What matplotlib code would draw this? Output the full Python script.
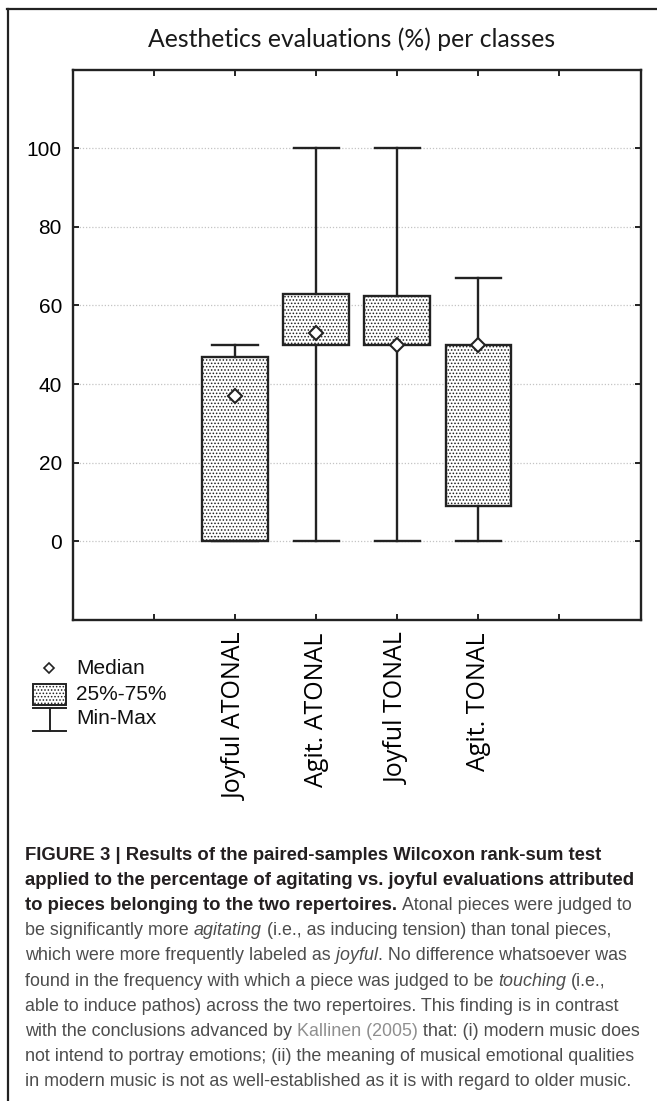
import matplotlib
matplotlib.use('Agg')
import matplotlib.pyplot as plt
from matplotlib.patches import Rectangle
from matplotlib.lines import Line2D

# data
classes = ['Joyful ATONAL', 'Agit. ATONAL', 'Joyful TONAL', 'Agit. TONAL']
positions = [2, 3, 4, 5]
mins = [0, 0, 0, 0]
q1s = [0, 50, 50, 9]
medians = [37, 53, 50, 50]
q3s = [47, 63, 62.5, 50]
maxs = [50, 100, 100, 67]

yticks = [0, 20, 40, 60, 80, 100]
xticks = [1, 2, 3, 4, 5, 6]
xticklabels = [''] + classes + ['']

title = 'Aesthetics evaluations (%) per classes'
legend_labels = ['Median', '25%-75%', 'Min-Max']

caption = [
    [('FIGURE 3 | Results of the paired-samples Wilcoxon rank-sum test', 'b')],
    [('applied to the percentage of agitating vs. joyful evaluations attributed', 'b')],
    [('to pieces belonging to the two repertoires. ', 'b'), ('Atonal pieces were judged to', 'r')],
    [('be significantly more ', 'r'), ('agitating', 'i'), (' (i.e., as inducing tension) than tonal pieces,', 'r')],
    [('which were more frequently labeled as ', 'r'), ('joyful', 'i'), ('. No difference whatsoever was', 'r')],
    [('found in the frequency with which a piece was judged to be ', 'r'), ('touching', 'i'), (' (i.e.,', 'r')],
    [('able to induce pathos) across the two repertoires. This finding is in contrast', 'r')],
    [('with the conclusions advanced by ', 'r'), ('Kallinen (2005)', 'l'), (' that: (i) modern music does', 'r')],
    [('not intend to portray emotions; (ii) the meaning of musical emotional qualities', 'r')],
    [('in modern music is not as well-established as it is with regard to older music.', 'r')],
]

ink = '#222222'
plt.rcParams['hatch.color'] = '#8a8a8a'
plt.rcParams['hatch.linewidth'] = 0.7

W, H = 657, 1101
fig = plt.figure(figsize=(W / 100, H / 100), dpi=100)


def fx(px):
    return px / W


def fy(py):
    return 1 - py / H


ax = fig.add_axes([fx(73), fy(620), fx(640.5) - fx(73), fy(69.5) - fy(620)])

stats = []
for c, lo, a, m, b, hi in zip(classes, mins, q1s, medians, q3s, maxs):
    stats.append(dict(label=c, whislo=lo, q1=a, med=m, q3=b, whishi=hi))

ax.bxp(stats, positions=positions, widths=0.81, capwidths=0.56, patch_artist=True,
       showfliers=False, manage_ticks=False,
       boxprops=dict(facecolor='white', edgecolor=ink, linewidth=1.7, hatch='.....'),
       whiskerprops=dict(color=ink, linewidth=1.7),
       capprops=dict(color=ink, linewidth=1.7),
       medianprops=dict(linewidth=0))
ax.plot(positions, medians, ls='none', marker='D', ms=7, mfc='white', mec=ink, mew=1.5, zorder=6)

ax.set_xlim(0, 7)
ax.set_ylim(-20, 120)
ax.set_yticks(yticks)
ax.set_xticks(xticks)
ax.set_xticklabels(xticklabels, rotation=90, family='Open Sans', fontsize=18)
ax.set_yticklabels([str(v) for v in yticks], family='Liberation Sans', fontsize=15)
ax.tick_params(direction='in', top=True, right=True, length=4.5, width=1.4, color=ink)
ax.tick_params(axis='x', pad=9)
ax.tick_params(axis='y', pad=8)
ax.yaxis.grid(True, ls=(0, (1, 1.5)), color='#c4c4c4', lw=0.9)
ax.set_axisbelow(True)
for s in ax.spines.values():
    s.set_linewidth(1.7)
    s.set_color(ink)

fig.text(fx(352), fy(39), title, ha='center', va='center', fontsize=17.8,
         family='Lato', color='#1a1a1a')

# legend block under the axes
leg_fs = 15
fig.add_artist(Line2D([fx(49)], [fy(668)], transform=fig.transFigure, ls='none', marker='D',
                      ms=5.5, mfc='white', mec=ink, mew=1.2))
fig.add_artist(Rectangle((fx(33), fy(705)), fx(66) - fx(33), fy(684) - fy(705),
                         transform=fig.transFigure, facecolor='white', edgecolor=ink,
                         lw=1.4, hatch='.....'))
fig.add_artist(Line2D([fx(33), fx(66)], [fy(708), fy(708)], transform=fig.transFigure, color=ink, lw=1.4))
fig.add_artist(Line2D([fx(33), fx(66)], [fy(731), fy(731)], transform=fig.transFigure, color=ink, lw=1.4))
fig.add_artist(Line2D([fx(49.5), fx(49.5)], [fy(708), fy(731)], transform=fig.transFigure, color=ink, lw=1.4))
for lab, y in zip(legend_labels, [668, 694, 719]):
    fig.text(fx(76), fy(y), lab, ha='left', va='center', fontsize=leg_fs,
             family='Liberation Sans', color='#111111')

# figure frame (top and left)
fig.add_artist(Line2D([fx(7), 1], [fy(8.5), fy(8.5)], transform=fig.transFigure, color=ink, lw=1.6))
fig.add_artist(Line2D([fx(8), fx(8)], [fy(8.5), 0], transform=fig.transFigure, color=ink, lw=1.6))

# caption
styles = {
    'b': dict(weight='bold', color='#231f20'),
    'r': dict(color='#4d4d4d'),
    'i': dict(style='italic', color='#4d4d4d'),
    'l': dict(color='#8f8f8f'),
}
renderer = fig.canvas.get_renderer()


def text_width(s, style, size):
    t = fig.text(0, 0, s, fontsize=size, family='Liberation Sans', **styles[style])
    w = t.get_window_extent(renderer=renderer).width
    t.remove()
    return w


# bold lead-in sized from line 2, body text from line 9 (widths in the reference)
bold_fs = 11.6 * 616 / text_width(caption[1][0][0], 'b', 11.6)
body_fs = 11.6 * 612 / text_width(caption[8][0][0], 'r', 11.6)
sizes = {'b': bold_fs, 'r': body_fs, 'i': body_fs, 'l': body_fs}
space_w = {k: text_width('x x', k, sizes[k]) - text_width('xx', k, sizes[k]) for k in styles}

for i, line in enumerate(caption):
    y = 855 + i * 25.2
    x = 25
    for seg, style in line:
        lead = len(seg) - len(seg.lstrip(' '))
        trail = len(seg) - len(seg.rstrip(' '))
        core = seg.strip(' ')
        x += lead * space_w[style]
        t = fig.text(fx(x), fy(y), core, ha='left', va='center', fontsize=sizes[style],
                     family='Liberation Sans', **styles[style])
        x += t.get_window_extent(renderer=renderer).width
        x += trail * space_w[style]

fig.savefig('out.png', dpi=100)
